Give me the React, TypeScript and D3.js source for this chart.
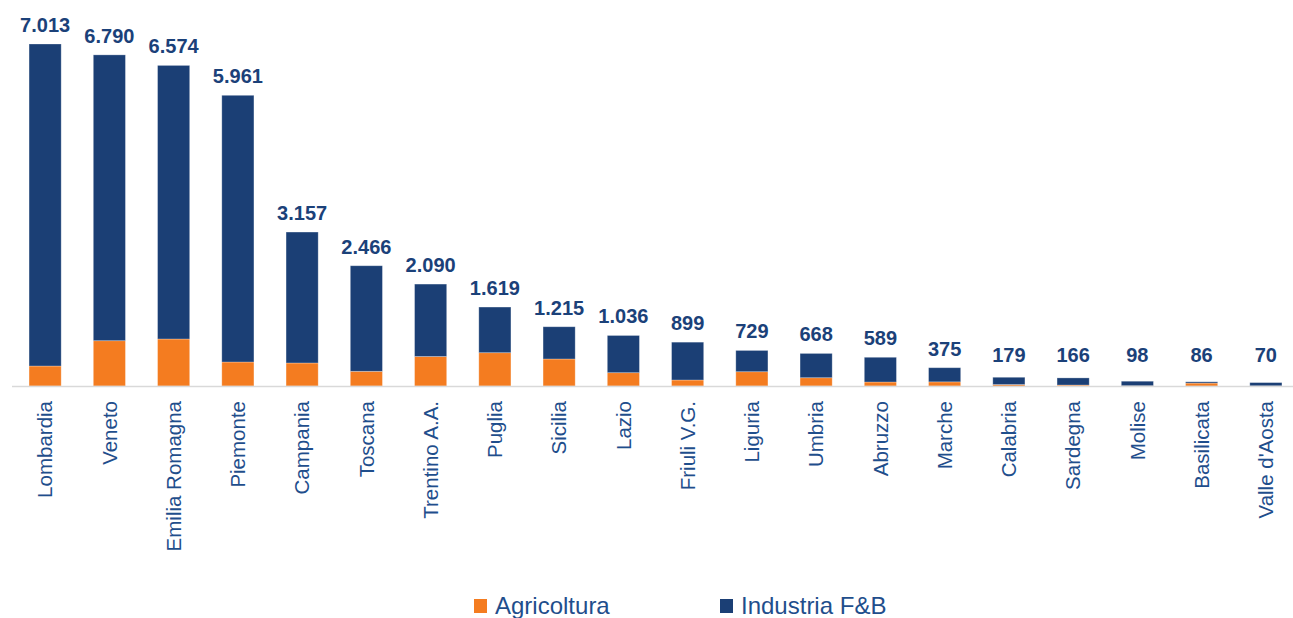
import React from "react";
import * as d3 from "d3";

const regions = [
  "Lombardia", "Veneto", "Emilia Romagna", "Piemonte", "Campania", "Toscana",
  "Trentino A.A.", "Puglia", "Sicilia", "Lazio", "Friuli V.G.", "Liguria",
  "Umbria", "Abruzzo", "Marche", "Calabria", "Sardegna", "Molise", "Basilicata",
  "Valle d'Aosta",
];
const agricoltura = [410, 929, 964, 492, 472, 301, 605, 683, 554, 273, 123, 293, 170, 82, 85, 30, 20, 5, 60, 3];
const industria = [6603, 5861, 5610, 5469, 2685, 2165, 1485, 936, 661, 763, 776, 436, 498, 507, 290, 149, 146, 93, 26, 67];
const seriesNames = ["Agricoltura", "Industria F&B"];

const W = 1293;
const H = 618;
const ORANGE = "#F47C20";
const NAVY = "#1B3F75";
const LABEL = "#1B4179";
const CAT = "#1F4E8C";
const FONT = "'Liberation Sans', Arial, Helvetica, sans-serif";

const itLocale = d3.formatLocale({ decimal: ",", thousands: ".", grouping: [3], currency: ["€", ""] });
const fmt = itLocale.format(",");

export default function App() {
  const data = regions.map((r, i) => ({ region: r, agri: agricoltura[i], ind: industria[i], total: agricoltura[i] + industria[i] }));
  const x = d3.scaleBand<string>().domain(regions).range([13, 1298]).paddingInner(0.5).paddingOuter(0.25);
  const baseY = 386;
  const y = d3.scaleLinear().domain([0, d3.max(data, (d) => d.total) as number]).range([baseY, 44]);
  const stack = d3.stack<any>().keys(["agri", "ind"])(data as any);
  const colors = [ORANGE, NAVY];
  const bw = x.bandwidth();

  return (
    <svg width={W} height={H} style={{ position: "absolute", left: 0, top: 0, background: "#fff" }} fontFamily={FONT}>
      {stack.map((layer, li) => (
        <g key={li} fill={colors[li]}>
          {layer.map((s: any, i: number) => {
            const y0 = y(s[0]);
            const y1 = y(s[1]);
            return (
              <rect
                key={i}
                x={x(regions[i])}
                y={y1}
                width={bw}
                height={Math.max(0, y0 - y1)}
                stroke="rgba(255,255,255,0.35)"
                strokeWidth={0.8}
              />
            );
          })}
        </g>
      ))}
      <line x1={12} x2={W} y1={baseY + 0.5} y2={baseY + 0.5} stroke="#d9d9d9" strokeWidth={1.5} />
      {data.map((d, i) => {
        const cx = (x(d.region) as number) + bw / 2;
        const ly = Math.min(y(d.total) - 12, 362);
        return (
          <text key={"l" + i} x={cx} y={ly} textAnchor="middle" fontSize={20} fontWeight="bold" fill={LABEL}>
            {fmt(d.total)}
          </text>
        );
      })}
      {data.map((d, i) => {
        const cx = (x(d.region) as number) + bw / 2;
        return (
          <text
            key={"c" + i}
            transform={`translate(${cx},401) rotate(-90)`}
            textAnchor="end"
            dy="0.35em"
            fontSize={20.5}
            fill={CAT}
          >
            {d.region}
          </text>
        );
      })}
      <g>
        <rect x={474} y={599} width={13} height={14} fill={ORANGE} />
        <text x={495} y={614} fontSize={24} fill={CAT}>{seriesNames[0]}</text>
        <rect x={720} y={599} width={13} height={14} fill={NAVY} />
        <text x={741} y={614} fontSize={24} fill={CAT}>{seriesNames[1]}</text>
      </g>
    </svg>
  );
}
